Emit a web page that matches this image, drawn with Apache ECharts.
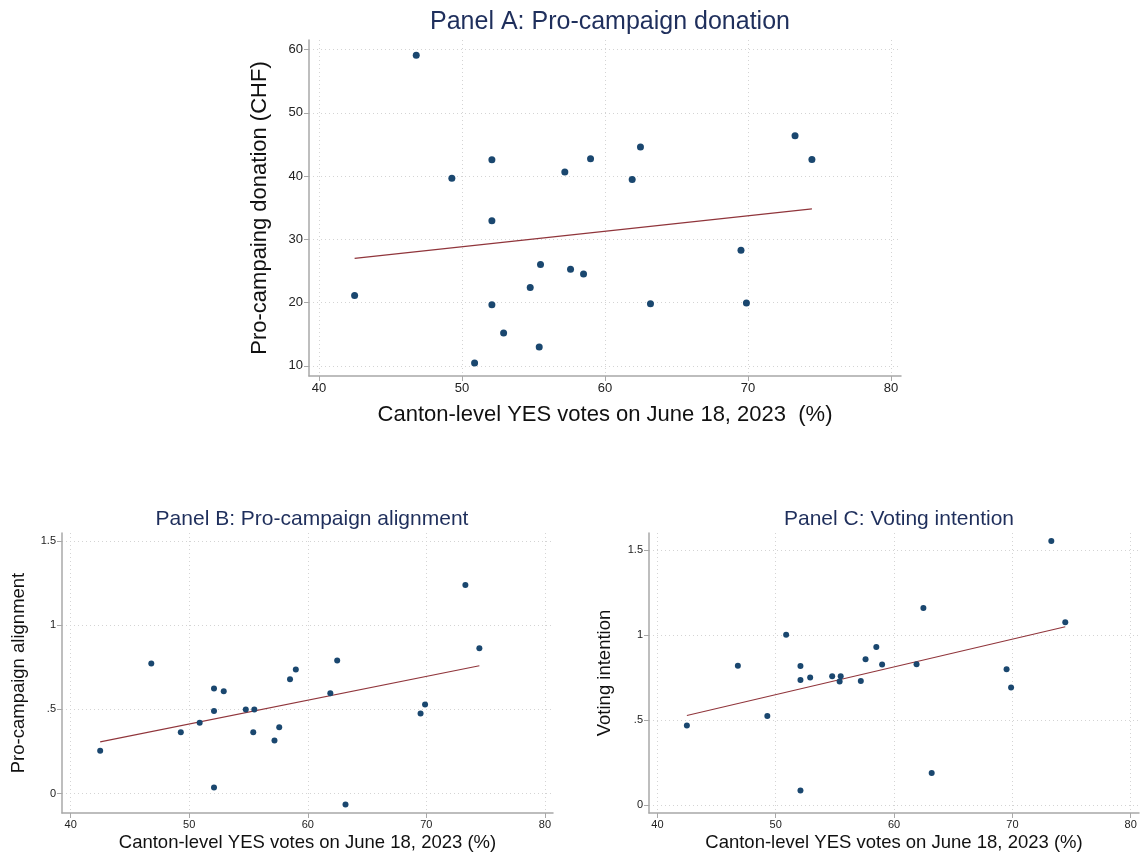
<!DOCTYPE html>
<html>
<head>
<meta charset="utf-8">
<title>Canton-level YES votes and campaign outcomes</title>
<script src="https://cdn.jsdelivr.net/npm/echarts@6/dist/echarts.min.js"></script>
<style>
  html, body { margin: 0; padding: 0; background: #ffffff; }
  #chart { width: 1141px; height: 857px; }
</style>
</head>
<body>
<div id="chart"></div>
<script>
// Canton-level share of YES votes (%), one entry per canton
const yesVotes = [42.49, 46.80, 49.29, 50.88, 52.09, 52.09, 52.09, 52.91, 54.77, 55.40, 55.49,
                  57.19, 57.59, 58.50, 58.99, 61.90, 62.48, 63.18, 69.51, 69.89, 73.29, 74.47];

// Panel A: pro-campaign donation (CHF)
const donation = [21.14, 59.10, 39.67, 10.44, 42.56, 32.92, 19.66, 15.18, 22.40, 12.97, 26.03,
                  40.62, 25.29, 24.50, 42.72, 39.46, 44.60, 19.81, 28.26, 19.92, 46.35, 42.62];

// Panel B: pro-campaign alignment
const alignment = [0.255, 0.772, 0.364, 0.421, 0.623, 0.490, 0.037, 0.607, 0.499, 0.364, 0.499,
                   0.315, 0.394, 0.679, 0.736, 0.596, 0.790, -0.065, 0.475, 0.528, 1.237, 0.863];

// Panel C: voting intention
const intention = [0.467, 0.819, 0.524, 1.001, 0.817, 0.736, 0.085, 0.750, 0.758, 0.727, 0.758,
                   0.729, 0.858, 0.930, 0.827, 0.828, 1.159, 0.188, 0.799, 0.691, 1.553, 1.075];

// Linear fit endpoints for each panel [x, y]
const fitDonation = [[42.49, 26.98], [74.47, 34.82]];
const fitAlignment = [[42.49, 0.307], [74.47, 0.758]];
const fitIntention = [[42.49, 0.527], [74.47, 1.049]];

// Tick values
const xTicks = [40, 50, 60, 70, 80];
const yTicksA = [10, 20, 30, 40, 50, 60];
const yTicksBC = [0, 0.5, 1, 1.5];

const FONT = 'Liberation Sans, Arial, sans-serif';
const AXIS_GREY = '#a8a8a8';
const DOT = '#1a476f';
const FIT = '#90353b';
const TITLE = '#1f2f5c';

const pairs = ys => yesVotes.map((x, i) => [x, ys[i]]);
const stataNum = v => (v === 0 ? '0' : String(v).replace(/^0\./, '.'));

function xAxis(gridIndex, min, max, labelSize, name, nameSize, nameGap) {
  return {
    type: 'value', gridIndex, min, max,
    name, nameLocation: 'middle', nameGap,
    nameTextStyle: { color: '#111', fontSize: nameSize, fontFamily: FONT },
    axisLine: { show: true, onZero: false, lineStyle: { color: AXIS_GREY, width: 1.5 } },
    axisTick: { show: true, length: 5, customValues: xTicks, lineStyle: { color: AXIS_GREY, width: 1 } },
    axisLabel: { customValues: xTicks, color: '#222', fontSize: labelSize, fontFamily: FONT, margin: 6 },
    splitLine: { show: true, lineStyle: { color: '#d4d4d4', width: 1, type: [1, 3] } }
  };
}

function yAxis(gridIndex, min, max, ticks, labelSize, name, nameSize, nameGap) {
  return {
    type: 'value', gridIndex, min, max,
    name, nameLocation: 'middle', nameGap,
    nameTextStyle: { color: '#111', fontSize: nameSize, fontFamily: FONT },
    axisLine: { show: true, onZero: false, lineStyle: { color: AXIS_GREY, width: 1.5 } },
    axisTick: { show: true, length: 5, customValues: ticks, lineStyle: { color: AXIS_GREY, width: 1 } },
    axisLabel: { customValues: ticks, color: '#222', fontSize: labelSize, fontFamily: FONT, margin: 6,
                 formatter: stataNum },
    splitLine: { show: true, lineStyle: { color: '#d4d4d4', width: 1, type: [1, 3] } }
  };
}

function dots(idx, ys, size) {
  return {
    type: 'scatter', xAxisIndex: idx, yAxisIndex: idx, data: pairs(ys),
    symbol: 'circle', symbolSize: size, itemStyle: { color: DOT, opacity: 1 }, silent: true, z: 3
  };
}

function fitLine(idx, pts, width) {
  return {
    type: 'line', xAxisIndex: idx, yAxisIndex: idx, data: pts,
    symbol: 'none', lineStyle: { color: FIT, width }, silent: true, z: 2
  };
}

const xName = 'Canton-level YES votes on June 18, 2023 (%)';

const option = {
  animation: false,
  backgroundColor: '#ffffff',
  title: [
    { text: 'Panel A: Pro-campaign donation', left: 605, top: 5, textAlign: 'center',
      textStyle: { color: TITLE, fontSize: 25, fontWeight: 'normal', fontFamily: FONT } },
    { text: 'Panel B: Pro-campaign alignment', left: 307, top: 504, textAlign: 'center',
      textStyle: { color: TITLE, fontSize: 21, fontWeight: 'normal', fontFamily: FONT } },
    { text: 'Panel C: Voting intention', left: 894, top: 504, textAlign: 'center',
      textStyle: { color: TITLE, fontSize: 21, fontWeight: 'normal', fontFamily: FONT } }
  ],
  grid: [
    { left: 309, top: 40, width: 592, height: 336 },
    { left: 62, top: 533, width: 491, height: 280 },
    { left: 649, top: 533, width: 490, height: 280 }
  ],
  xAxis: [
    xAxis(0, 39.3, 80.7, 13, 'Canton-level YES votes on June 18, 2023  (%)', 22, 28),
    xAxis(1, 39.27, 80.68, 11, xName, 18.5, 20),
    xAxis(2, 39.29, 80.7, 11, xName, 18.5, 20)
  ],
  yAxis: [
    yAxis(0, 8.4, 61.5, yTicksA, 13, 'Pro-campaing donation (CHF)', 22, 38),
    yAxis(1, -0.115, 1.546, yTicksBC, 11, 'Pro-campaign alignment', 18.5, 34),
    yAxis(2, -0.047, 1.6, yTicksBC, 11, 'Voting intention', 18.5, 35)
  ],
  series: [
    fitLine(0, fitDonation, 1.3),
    dots(0, donation, 7),
    fitLine(1, fitAlignment, 1.1),
    dots(1, alignment, 6),
    fitLine(2, fitIntention, 1.1),
    dots(2, intention, 6)
  ]
};

const chart = echarts.init(document.getElementById('chart'), null, { renderer: 'canvas' });
chart.setOption(option);
</script>
</body>
</html>
